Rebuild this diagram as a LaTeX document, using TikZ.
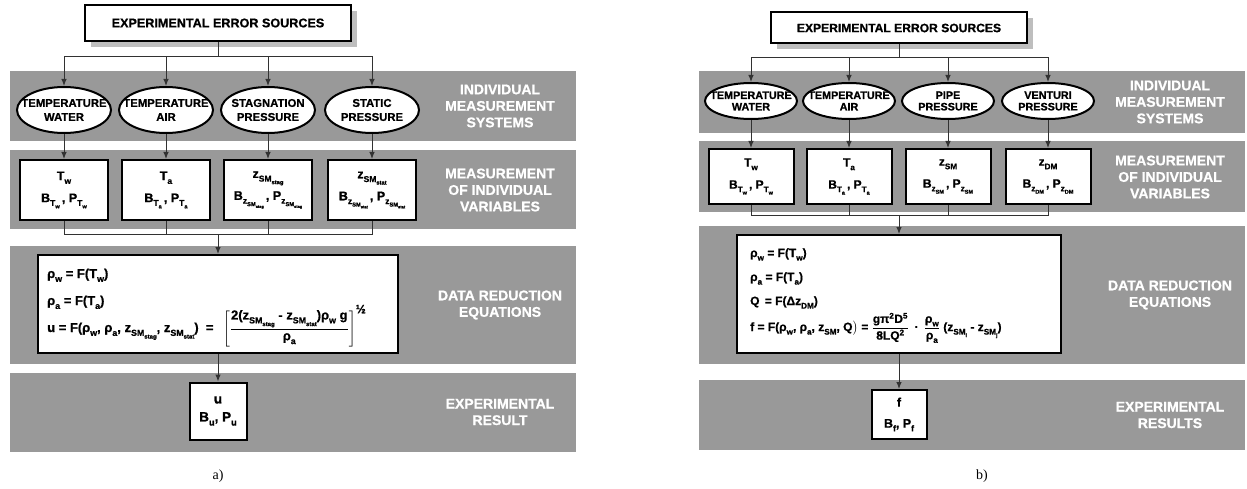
\documentclass[tikz,border=0pt]{standalone}
\usepackage{amsmath}
\usepackage{fontspec}
\setmainfont{Liberation Sans}[BoldFeatures={FakeBold=0.8}]
\newfontfamily\capfont{Liberation Serif}
\usetikzlibrary{shapes.geometric,arrows.meta,shadows}
\definecolor{bandgray}{RGB}{153,153,153}
\definecolor{shadegray}{RGB}{190,190,190}
\definecolor{linegray}{RGB}{50,50,50}
\makeatletter
\newcommand{\sbs}[1]{\raisebox{-0.3em}{\fontsize{\dimexpr0.68\dimexpr\f@size pt\relax\relax}{0pt}\selectfont #1}}
\makeatother
\newcommand{\ptsize}[2]{\fontsize{#1}{#2}\selectfont\bfseries}

\begin{document}
\begin{tikzpicture}[x=1pt,y=-1pt,
   band/.style={fill=bandgray},
   bandlabel/.style={text=white,align=center,font=\ptsize{14}{16.5}},
   srcbox/.style={draw,line width=2pt,fill=white,inner sep=0pt,
      drop shadow={shadow xshift=6pt,shadow yshift=-6pt,fill=shadegray,opacity=1}},
   meas/.style={ellipse,draw,line width=2pt,fill=white,inner xsep=-25pt,inner ysep=0pt,align=center},
   varbox/.style={draw,line width=2pt,fill=white,inner sep=0pt,align=center},
   eqline/.style={anchor=base west,inner sep=0pt},
   arr/.style={draw=linegray,line width=1pt,-{Latex[length=7pt,width=5.5pt]}},
   link/.style={draw=linegray,line width=1pt}]
 \useasboundingbox (0,0) rectangle (1247,489);

 % a)
 \fill[band] (10,71) rectangle (576,141);
 \fill[band] (10,150) rectangle (576,229);
 \fill[band] (10,246) rectangle (576,364);
 \fill[band] (10,373) rectangle (576,452);
 \node[bandlabel] (la1) at (500,106) {INDIVIDUAL\\MEASUREMENT\\SYSTEMS};
 \node[bandlabel] (la2) at (500,190) {MEASUREMENT\\OF INDIVIDUAL\\VARIABLES};
 \node[bandlabel] (la3) at (500,305) {DATA REDUCTION\\EQUATIONS};
 \node[bandlabel] (la4) at (500,412) {EXPERIMENTAL\\RESULT};

 \node[srcbox,minimum width=266pt,minimum height=36pt,font=\ptsize{12.6}{14}] (srca) at (218,23)
   {EXPERIMENTAL ERROR SOURCES};
 \coordinate (topa) at (218,57);

 \tikzset{every node/.append style={font=\ptsize{11.3}{14}}}
 \node[meas,minimum width=94pt,minimum height=46pt] (ea1) at (64,110) {TEMPERATURE\\WATER};
 \node[meas,minimum width=94pt,minimum height=46pt] (ea2) at (166,110) {TEMPERATURE\\AIR};
 \node[meas,minimum width=94pt,minimum height=46pt] (ea3) at (268,110) {STAGNATION\\PRESSURE};
 \node[meas,minimum width=94pt,minimum height=46pt] (ea4) at (372,110) {STATIC\\PRESSURE};

 \tikzset{every node/.append style={font=\ptsize{12.5}{22}}}
 \node[varbox,minimum width=88pt,minimum height=60pt] (ba1) at (64,190)
   {T\sbs{w}\\B\sbs{T\sbs{w}}\,, P\sbs{T\sbs{w}}};
 \node[varbox,minimum width=88pt,minimum height=60pt] (ba2) at (166,190)
   {T\sbs{a}\\B\sbs{T\sbs{a}}\,, P\sbs{T\sbs{a}}};
 \node[varbox,minimum width=88pt,minimum height=60pt] (ba3) at (268,190)
   {z\sbs{SM\sbs{stag}}\\B\sbs{z\sbs{SM\sbs{stag}}}\,, P\sbs{z\sbs{SM\sbs{stag}}}};
 \node[varbox,minimum width=88pt,minimum height=60pt] (ba4) at (372,190)
   {z\sbs{SM\sbs{stat}}\\B\sbs{z\sbs{SM\sbs{stat}}}\,, P\sbs{z\sbs{SM\sbs{stat}}}};
 \coordinate (joina) at (218,234);

 \tikzset{every node/.append style={font=\ptsize{13}{15}}}
 \node[varbox,minimum width=360pt,minimum height=98pt] (eqa) at (218,304) {};
 \node[eqline] (eqa1) at (47,278) {ρ\sbs{w} = F(T\sbs{w})};
 \node[eqline] (eqa2) at (47,305) {ρ\sbs{a} = F(T\sbs{a})};
 \node[eqline] (eqa3) at (47,332) {u = F(ρ\sbs{w}, ρ\sbs{a}, z\sbs{SM\sbs{stag}}, z\sbs{SM\sbs{stat}}) \;=\;\,
   $\left[\dfrac{\text{2(z\sbs{SM\sbs{stag}} - z\sbs{SM\sbs{stat}})ρ\sbs{w} g}}{\text{ρ\sbs{a}}}\right]^{\text{\fontsize{12}{12}\selectfont ½}}$};

 \node[varbox,minimum width=57pt,minimum height=57pt,font=\ptsize{13.5}{18}] (resa) at (218,411)
   {u\\B\sbs{u}, P\sbs{u}};

 \draw[link] (srca) -- (topa);
 \foreach \i in {1,...,4} {
   \draw[arr] (topa) -| (ea\i.north);
   \draw[arr] (ea\i) -- (ba\i);
   \draw[link] (ba\i.south) |- (joina);
 }
 \draw[arr] (joina) -- (eqa);
 \draw[arr] (eqa) -- (resa);

 \node[font=\capfont\mdseries\fontsize{14}{16}\selectfont] (capa) at (218,476) {a)};

 % b)
 \fill[band] (699,71) rectangle (1245,133);
 \fill[band] (699,141) rectangle (1245,212);
 \fill[band] (699,226) rectangle (1245,364);
 \fill[band] (699,380) rectangle (1245,450);
 \node[bandlabel] (lb1) at (1170,102) {INDIVIDUAL\\MEASUREMENT\\SYSTEMS};
 \node[bandlabel] (lb2) at (1170,177) {MEASUREMENT\\OF INDIVIDUAL\\VARIABLES};
 \node[bandlabel] (lb3) at (1170,295) {DATA REDUCTION\\EQUATIONS};
 \node[bandlabel] (lb4) at (1170,415) {EXPERIMENTAL\\RESULTS};

 \node[srcbox,minimum width=256pt,minimum height=31pt,font=\ptsize{12.1}{14}] (srcb) at (899,28)
   {EXPERIMENTAL ERROR SOURCES};
 \coordinate (topb) at (899,58);

 \tikzset{every node/.append style={font=\ptsize{10.8}{11.5}}}
 \node[meas,minimum width=92pt,minimum height=36pt] (eb1) at (751,101) {TEMPERATURE\\WATER};
 \node[meas,minimum width=92pt,minimum height=36pt] (eb2) at (849,101) {TEMPERATURE\\AIR};
 \node[meas,minimum width=92pt,minimum height=36pt] (eb3) at (948,101) {PIPE\\PRESSURE};
 \node[meas,minimum width=92pt,minimum height=36pt] (eb4) at (1048,101) {VENTURI\\PRESSURE};

 \tikzset{every node/.append style={font=\ptsize{12}{22}}}
 \node[varbox,minimum width=85pt,minimum height=55pt] (bb1) at (751,176.5)
   {T\sbs{w}\\B\sbs{T\sbs{w}}\,, P\sbs{T\sbs{w}}};
 \node[varbox,minimum width=85pt,minimum height=55pt] (bb2) at (849,176.5)
   {T\sbs{a}\\B\sbs{T\sbs{a}}\,, P\sbs{T\sbs{a}}};
 \node[varbox,minimum width=85pt,minimum height=55pt] (bb3) at (948,176.5)
   {z\sbs{SM}\\B\sbs{z\sbs{SM}}\,, P\sbs{z\sbs{SM}}};
 \node[varbox,minimum width=85pt,minimum height=55pt] (bb4) at (1048,176.5)
   {z\sbs{DM}\\B\sbs{z\sbs{DM}}\,, P\sbs{z\sbs{DM}}};
 \coordinate (joinb) at (899,216);

 \tikzset{every node/.append style={font=\ptsize{12}{14}}}
 \node[varbox,minimum width=324pt,minimum height=118pt] (eqb) at (899,294) {};
 \node[eqline] (eqb1) at (750,257) {ρ\sbs{w} = F(T\sbs{w})};
 \node[eqline] (eqb2) at (750,281) {ρ\sbs{a} = F(T\sbs{a})};
 \node[eqline] (eqb3) at (750,305) {Q \,= F(Δz\sbs{DM})};
 \node[eqline] (eqb4) at (750,331) {f = F(ρ\sbs{w}, ρ\sbs{a}, z\sbs{SM}, Q$\big)$ =
   $\dfrac{\text{gπ\textsuperscript{2}D\textsuperscript{5}}}{\text{8LQ\textsuperscript{2}}}$ \,·\,
   $\dfrac{\text{ρ\sbs{w}}}{\text{ρ\sbs{a}}}$ (z\sbs{SM\sbs{i}} - z\sbs{SM\sbs{j}})};

 \node[varbox,minimum width=55pt,minimum height=49pt,font=\ptsize{12.5}{21}] (resb) at (899,414.5)
   {f\\B\sbs{f}, P\sbs{f}};

 \draw[link] (srcb) -- (topb);
 \foreach \i in {1,...,4} {
   \draw[arr] (topb) -| (eb\i.north);
   \draw[arr] (eb\i) -- (bb\i);
   \draw[link] (bb\i.south) |- (joinb);
 }
 \draw[arr] (joinb) -- (eqb);
 \draw[arr] (eqb) -- (resb);

 \node[font=\capfont\mdseries\fontsize{14}{16}\selectfont] (capb) at (982,476) {b)};
\end{tikzpicture}
\end{document}
